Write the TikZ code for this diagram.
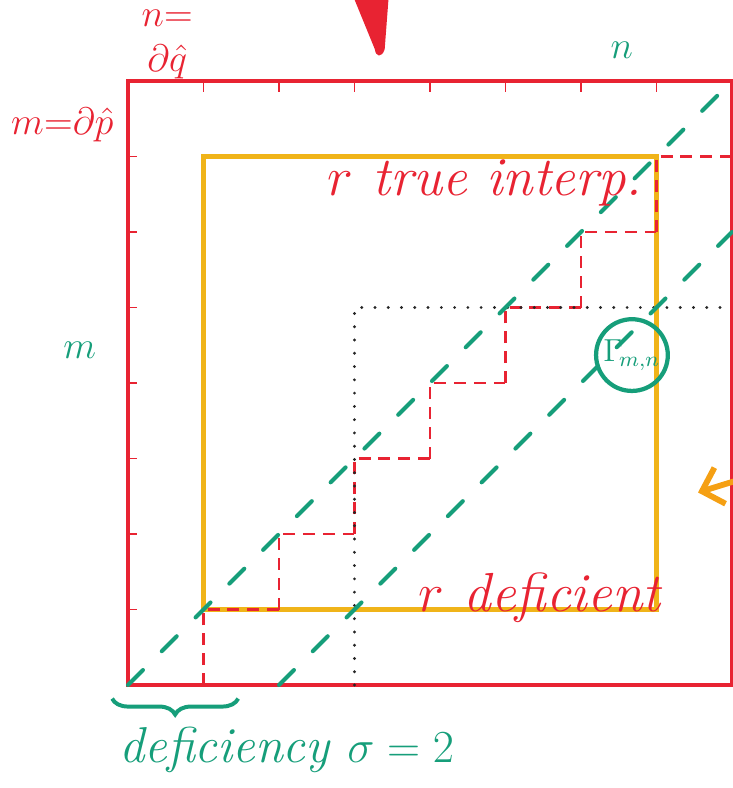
\documentclass[tikz,border=0pt]{standalone}
\usepackage{amsmath,amssymb}
\usepackage{xcolor}
\usepackage{tikz}
\usetikzlibrary{arrows.meta,positioning,calc,decorations.pathreplacing}

\definecolor{penred}{RGB}{232,35,50}
\definecolor{penteal}{RGB}{22,158,122}
\definecolor{penyellow}{RGB}{240,180,25}
\definecolor{penorange}{RGB}{245,160,20}

\begin{document}
\begin{tikzpicture}[
  frame/.style={draw=penred, line width=1.2pt},
  inner/.style={draw=penyellow, line width=1.6pt},
  stair/.style={draw=penred, line width=0.9pt, dash pattern=on 4.5pt off 3pt},
  diag/.style={draw=penteal, line width=1.5pt, line cap=round, dash pattern=on 8pt off 10pt},
  dots/.style={draw=black!85, line width=1.2pt, line cap=round, dash pattern=on 0pt off 5pt},
  redlbl/.style={text=penred, font=\huge\itshape, inner sep=1pt},
  corner/.style={text=penred, font=\Large, inner sep=1pt},
  teallbl/.style={text=penteal, font=\LARGE\itshape, inner sep=1pt},
  x=1cm, y=1cm
]
\useasboundingbox (-1.695,-1.364) rectangle (8.013,9.073);

\coordinate (ll) at (0,0);
\coordinate (ur) at (8,8);
\coordinate (yll) at (1,1);
\coordinate (yur) at (7,7);

% outer matrix and ticks
\draw[frame] (ll) rectangle (ur);
\foreach \k in {1,...,7} {
  \draw[penred, line width=0.6pt] (\k,8) -- (\k,7.85);
  \draw[penred, line width=0.6pt] (0,\k) -- (0.12,\k);
}

% interpolating block
\draw[inner] (yll) rectangle (yur);

% staircase
\foreach \k in {1,...,7}
  \draw[stair] (\k,\k-1) -- (\k,\k) -- (\k+1,\k);

% dotted corner
\draw[dots] (3,0) -- (3,5) -- (8,5);

% diagonals
\draw[diag] (ll) -- (ur);
\draw[diag] (2,0) -- (8,6);

% Gamma circle
\node[draw=penteal, line width=1.6pt, circle, minimum size=0.95cm, inner sep=0pt,
      text=penteal, font=\large] (gam) at (6.675,4.37) {$\Gamma_{\!m,n}$};

% labels
\node[corner, align=center] (nq) at (0.52,8.48) {$n{=}$\\[-1pt]$\partial\hat q$};
\node[corner] (mp) at (-0.87,7.42) {$m{=}\partial\hat p$};
\node[teallbl, font=\Large] (tn) at (6.54,8.41) {$n$};
\node[teallbl, font=\Large] (tm) at (-0.64,4.44) {$m$};
\node[redlbl] (tru) at (4.73,6.65) {$r$ true interp.};
\node[redlbl] (def) at (5.45,1.15) {$r$ deficient};

% deficiency brace
\coordinate (bl) at (-0.21,-0.18);
\coordinate (br) at (1.46,-0.18);
\draw[penteal, line width=1.5pt, decorate, decoration={brace, mirror, amplitude=6pt}] (bl) -- (br);
\node[teallbl, font=\fontsize{19}{22}\selectfont\itshape] (sig) at (2.1,-0.86) {deficiency $\sigma = 2$};

% marker blob and orange arrow
\fill[penred] (3.0,9.08) -- (3.45,9.08) -- (3.4,8.42) .. controls (3.36,8.3) and (3.28,8.32) .. (3.27,8.42) -- cycle;
\coordinate (oa) at (8.1,2.72);
\coordinate (ob) at (7.55,2.55);
\draw[penorange, line width=2.2pt, line cap=round, -{Straight Barb[length=2.5mm, width=5mm]}] (oa) -- (ob);

\end{tikzpicture}
\end{document}
